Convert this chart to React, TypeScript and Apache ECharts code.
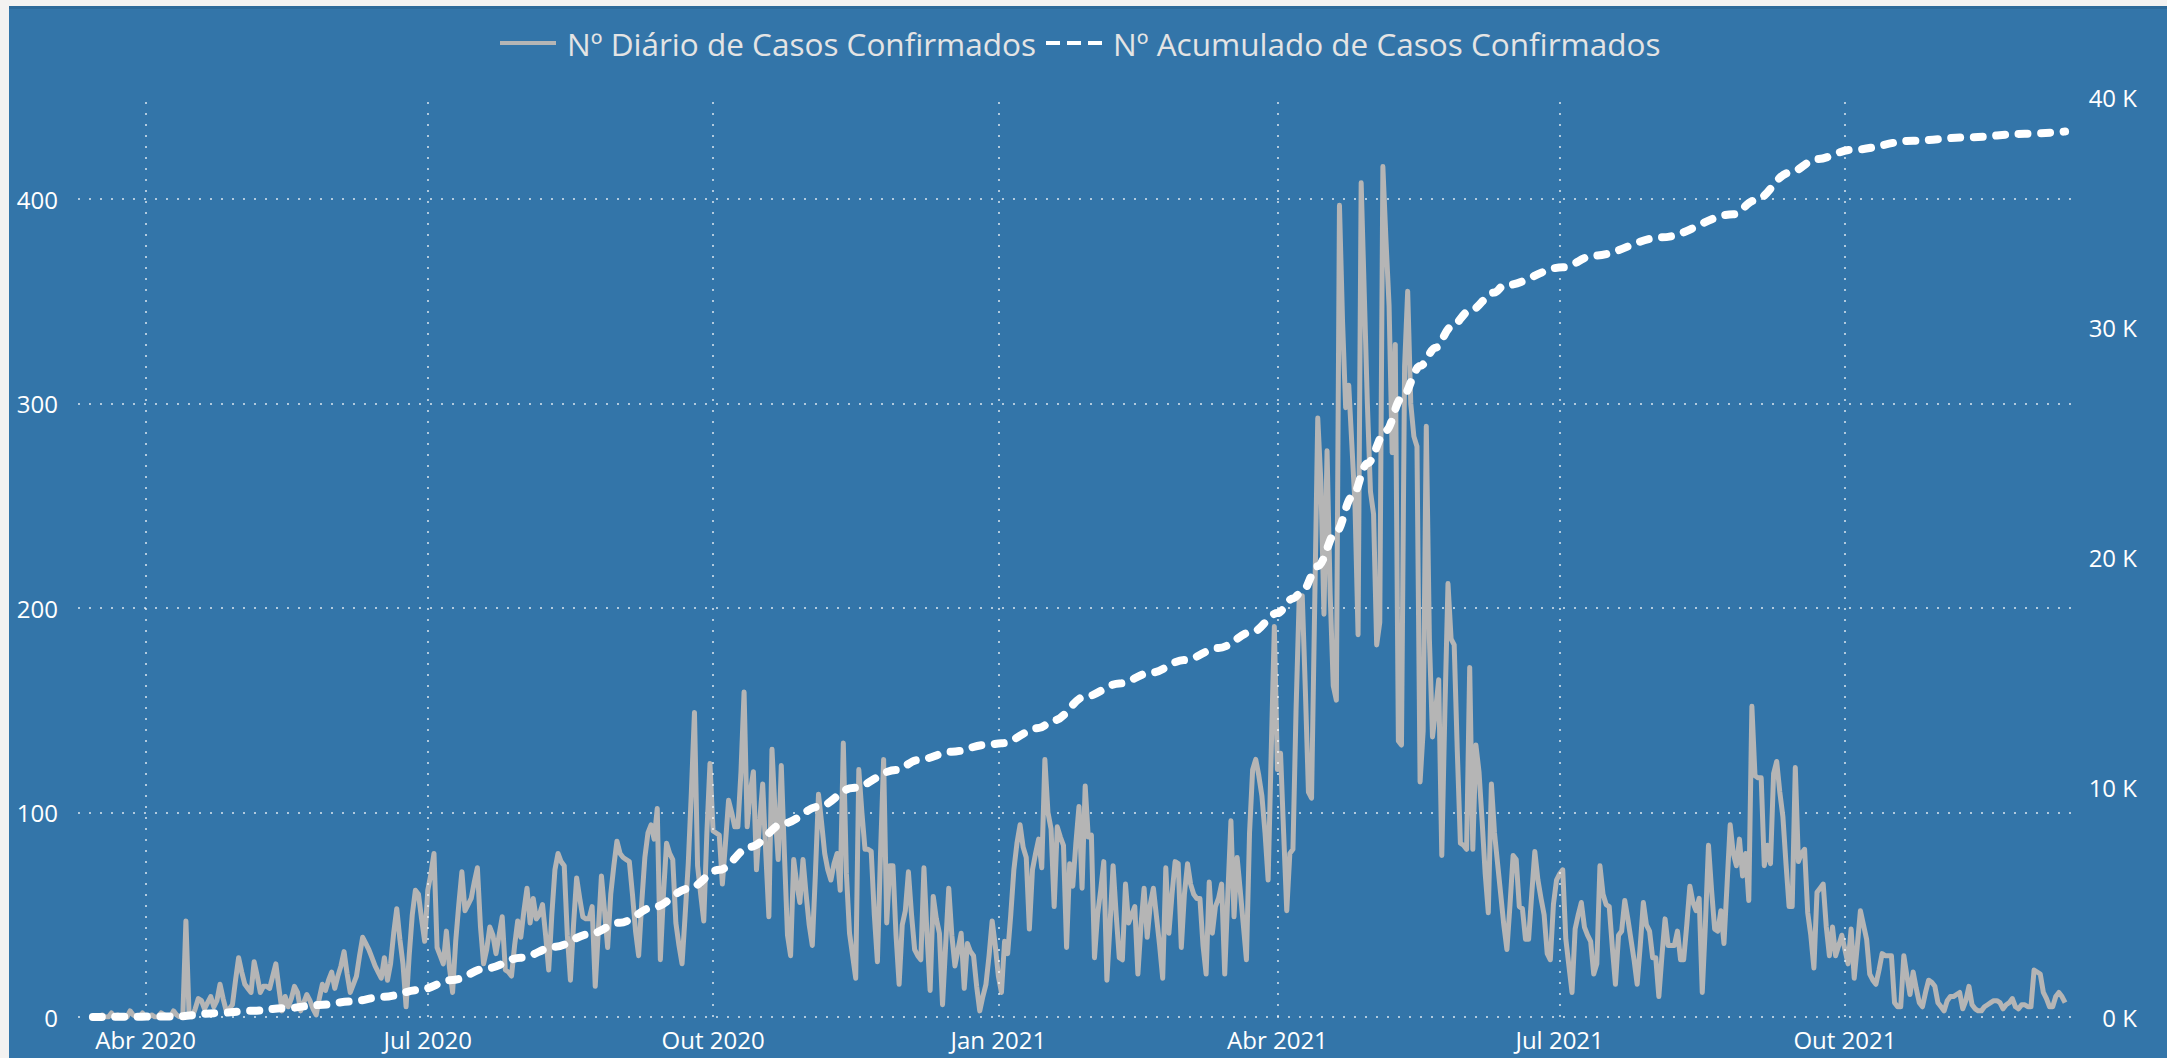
import React, { useEffect, useRef } from "react";
import * as echarts from "echarts";

// ---------- DATA ----------
const START_DATE = "2020-03-15";

// Nº Diário de Casos Confirmados (one value per day from START_DATE)
const dailyCases: number[] = [
  0, 0, 0, 1, 0, 0, 2, 0, 1, 0,
  0, 0, 3, 1, 0, 0, 2, 0, 0, 1,
  0, 0, 2, 1, 0, 0, 3, 1, 0, 0,
  47, 2, 0, 4, 9, 8, 4, 7, 10, 5,
  8, 16, 9, 3, 4, 6, 18, 29, 22, 16,
  14, 12, 27, 20, 12, 15, 15, 14, 20, 26,
  14, 3, 10, 5, 9, 15, 12, 3, 7, 11,
  8, 4, 1, 9, 16, 13, 18, 22, 14, 20,
  25, 32, 21, 12, 16, 20, 30, 39, 36, 33,
  29, 25, 22, 19, 29, 18, 26, 41, 53, 38,
  26, 5, 30, 50, 62, 60, 48, 37, 62, 70,
  80, 34, 30, 26, 42, 24, 12, 37, 55, 71,
  52, 55, 58, 66, 73, 44, 26, 33, 44, 40,
  31, 40, 49, 23, 22, 20, 35, 47, 39, 52,
  63, 46, 58, 48, 50, 55, 40, 23, 50, 72,
  80, 76, 74, 40, 18, 45, 68, 58, 49, 48,
  48, 54, 15, 42, 69, 52, 34, 60, 74, 86,
  80, 78, 77, 76, 60, 42, 30, 56, 78, 90,
  94, 87, 102, 28, 60, 85, 80, 77, 46, 35,
  26, 50, 75, 110, 149, 74, 60, 47, 90, 124,
  91, 90, 89, 65, 85, 106, 100, 93, 93, 120,
  159, 93, 110, 120, 72, 95, 114, 80, 49, 131,
  100, 77, 123, 80, 40, 30, 77, 65, 56, 77,
  60, 45, 35, 70, 109, 95, 80, 72, 67, 75,
  80, 62, 134, 70, 41, 30, 19, 121, 100, 82,
  82, 81, 50, 27, 80, 126, 46, 74, 74, 40,
  16, 45, 52, 71, 50, 33, 30, 28, 73, 40,
  13, 59, 48, 41, 6, 35, 63, 40, 25, 33,
  41, 14, 36, 32, 30, 15, 3, 10, 16, 30,
  47, 35, 20, 12, 37, 31, 50, 72, 85, 94,
  83, 78, 43, 72, 80, 87, 73, 126, 100, 92,
  54, 93, 88, 84, 34, 75, 64, 85, 103, 63,
  113, 88, 89, 29, 50, 62, 76, 18, 45, 74,
  50, 29, 28, 65, 46, 50, 54, 21, 45, 63,
  39, 55, 63, 49, 35, 19, 73, 41, 60, 76,
  75, 34, 60, 75, 65, 60, 58, 58, 35, 21,
  66, 41, 54, 58, 65, 21, 60, 96, 49, 78,
  62, 45, 28, 90, 121, 126, 118, 108, 90, 67,
  130, 191, 121, 129, 90, 52, 80, 82, 150, 204,
  206, 160, 110, 107, 200, 293, 262, 197, 277, 207,
  162, 155, 397, 340, 298, 309, 280, 251, 187, 408,
  354, 300, 257, 246, 182, 193, 416, 380, 348, 276,
  329, 135, 133, 318, 355, 300, 284, 279, 115, 140,
  289, 185, 137, 150, 165, 79, 150, 212, 185, 182,
  130, 85, 84, 82, 171, 82, 133, 120, 96, 70,
  51, 114, 90, 75, 60, 45, 33, 55, 79, 77,
  54, 53, 38, 38, 60, 81, 67, 58, 50, 31,
  28, 55, 67, 70, 72, 38, 25, 12, 43, 50,
  56, 44, 40, 37, 21, 26, 74, 60, 55, 54,
  34, 16, 40, 42, 57, 48, 38, 28, 16, 35,
  56, 45, 42, 29, 29, 10, 30, 48, 35, 35,
  35, 42, 28, 28, 45, 64, 56, 52, 58, 12,
  45, 84, 62, 43, 42, 52, 36, 65, 94, 80,
  74, 87, 69, 80, 57, 152, 118, 117, 117, 74,
  84, 75, 119, 125, 110, 98, 75, 54, 54, 122,
  76, 80, 82, 51, 40, 24, 61, 63, 65, 44,
  30, 44, 30, 35, 40, 33, 26, 43, 19, 35,
  52, 45, 38, 21, 18, 16, 23, 31, 30, 30,
  30, 7, 5, 5, 30, 20, 11, 22, 14, 7,
  5, 12, 18, 17, 15, 7, 5, 3, 8, 10,
  10, 11, 12, 4, 8, 15, 6, 4, 3, 3,
  5, 6, 7, 8, 8, 7, 4, 6, 7, 9,
  5, 4, 6, 6, 5, 5, 23, 22, 21, 12,
  9, 5, 5, 10, 12, 10, 7,
];

// Nº Acumulado de Casos Confirmados
const cumDates: string[] = [
  "2020-03-15", "2020-04-10", "2020-04-24", "2020-05-05", "2020-05-16", "2020-05-27",
  "2020-06-06", "2020-06-17", "2020-06-28", "2020-07-09", "2020-07-20", "2020-07-31",
  "2020-08-11", "2020-08-22", "2020-09-01", "2020-09-12", "2020-09-23", "2020-10-03",
  "2020-10-13", "2020-10-24", "2020-11-04", "2020-11-15", "2020-11-29", "2020-12-06",
  "2020-12-17", "2020-12-28", "2021-01-02", "2021-01-14", "2021-01-19", "2021-01-29",
  "2021-02-09", "2021-02-19", "2021-03-02", "2021-03-13", "2021-03-24", "2021-04-01",
  "2021-04-06", "2021-04-09", "2021-04-14", "2021-04-20", "2021-04-25", "2021-04-30",
  "2021-05-06", "2021-05-11", "2021-05-17", "2021-05-22", "2021-05-27", "2021-06-02",
  "2021-06-10", "2021-06-13", "2021-07-02", "2021-07-12", "2021-08-03", "2021-08-26",
  "2021-09-02", "2021-09-13", "2021-09-22", "2021-10-03", "2021-10-23", "2021-11-10",
  "2021-11-28", "2021-12-11",
];
const cumCases: number[] = [
  0, 20, 170, 270, 380, 520,
  670, 880, 1170, 1610, 2120, 2580,
  3050, 3600, 4100, 4780, 5580, 6400,
  7400, 8430, 9140, 9960, 10740, 11170,
  11530, 11830, 11900, 12560, 12900, 13930,
  14500, 14960, 15520, 16040, 16750, 17560,
  18200, 18500, 19600, 21100, 22600, 24070,
  25500, 26900, 28300, 29100, 30000, 30700,
  31500, 31800, 32600, 33100, 33900, 34900,
  35500, 36700, 37300, 37700, 38100, 38250,
  38400, 38500,
];

const quarterDates: string[] = [
  "2020-04-01", "2020-07-01", "2020-10-01", "2021-01-01",
  "2021-04-01", "2021-07-01", "2021-10-01",
];
const quarterLabels: string[] = [
  "Abr 2020", "Jul 2020", "Out 2020", "Jan 2021",
  "Abr 2021", "Jul 2021", "Out 2021",
];

const SERIES_DAILY = "Nº Diário de Casos Confirmados";
const SERIES_CUM = "Nº Acumulado de Casos Confirmados";

const X_MIN = "2020-03-10";
const X_MAX = "2021-12-14";

// ---------- HELPERS ----------
const DAY = 86400000;
const ts = (s: string) => Date.parse(s + "T00:00:00Z");

const FONT = "'Open Sans', 'Noto Sans', sans-serif";
const GRID_LINE = { color: "rgba(255,255,255,0.62)", width: 2, type: [2, 9] as any };
const TICK_FONT = 24;

export default function App() {
  const ref = useRef<HTMLDivElement>(null);

  useEffect(() => {
    if (!ref.current) return;
    const chart = echarts.init(ref.current, undefined, { renderer: "svg" });
    const start = ts(START_DATE);

    const option: any = {
      animation: false,
      useUTC: true,
      backgroundColor: "#3375A9",
      textStyle: { fontFamily: FONT },
      grid: { left: 69, right: 92, top: 88, bottom: 41, containLabel: false },
      legend: {
        left: 484,
        top: 13,
        itemWidth: 56,
        itemHeight: 14,
        itemGap: 8,
        itemStyle: { opacity: 0 },
        textStyle: { color: "#E4E4E4", fontSize: 31.5, fontFamily: FONT, padding: [0, 0, 0, 6] },
        data: [
          {
            name: SERIES_DAILY,
            itemStyle: { opacity: 0 },
            lineStyle: { width: 4, color: "#B5B5B5", type: "solid" },
          },
          {
            name: SERIES_CUM,
            itemStyle: { opacity: 0 },
            lineStyle: { width: 4, color: "#FFFFFF", type: [14, 7], cap: "butt" },
          },
        ],
      },
      xAxis: {
        type: "time",
        min: ts(X_MIN) + 0.2 * DAY,
        max: ts(X_MAX) + 0.2 * DAY,
        axisLabel: { show: false },
        axisTick: { show: false },
        axisLine: { show: false },
        splitLine: { show: false },
      },
      yAxis: [
        {
          type: "value",
          min: 0,
          max: 450,
          interval: 100,
          position: "left",
          axisLine: { show: false },
          axisTick: { show: false },
          axisLabel: {
            color: "#FFFFFF",
            fontSize: TICK_FONT,
            fontFamily: FONT,
            margin: 20,
            showMaxLabel: false,
            formatter: (v: number) => (v > 400 ? "" : String(v)),
          },
          splitLine: { show: true, showMaxLine: false, lineStyle: GRID_LINE },
        },
        {
          type: "value",
          min: 0,
          max: 40000,
          interval: 10000,
          position: "right",
          axisLine: { show: false },
          axisTick: { show: false },
          axisLabel: {
            color: "#FFFFFF",
            fontSize: TICK_FONT,
            fontFamily: FONT,
            margin: 62,
            align: "right",
            formatter: (v: number) => v / 1000 + " K",
          },
          splitLine: { show: false },
        },
      ],
      series: [
        {
          name: "_grid",
          type: "line",
          data: [[start, 0]],
          symbol: "none",
          lineStyle: { opacity: 0 },
          z: 1,
          silent: true,
          markLine: {
            silent: true,
            symbol: ["none", "none"],
            lineStyle: GRID_LINE,
            label: {
              show: true,
              position: "start",
              distance: 10,
              color: "#FFFFFF",
              fontSize: TICK_FONT,
              fontFamily: FONT,
            },
            data: quarterDates.map((d, i) => ({
              xAxis: ts(d),
              label: { formatter: quarterLabels[i] },
            })),
          },
        },
        {
          name: SERIES_DAILY,
          type: "line",
          yAxisIndex: 0,
          data: dailyCases.map((v, i) => [start + i * DAY, v]),
          symbol: "none",
          showSymbol: false,
          itemStyle: { color: "#B5B5B5" },
          lineStyle: { color: "#B5B5B5", width: 5, join: "round" },
          z: 3,
        },
        {
          name: SERIES_CUM,
          type: "line",
          yAxisIndex: 1,
          smooth: 0.35,
          smoothMonotone: "x",
          data: cumDates.map((d, i) => [ts(d), cumCases[i]]),
          symbol: "none",
          showSymbol: false,
          itemStyle: { color: "#FFFFFF" },
          lineStyle: { color: "#FFFFFF", width: 8, type: [9, 13.5], cap: "round", join: "round" },
          z: 4,
        },
      ],
    };

    chart.setOption(option);
    return () => chart.dispose();
  }, []);

  return (
    <div style={{ position: "fixed", inset: 0, background: "#F3F2F1", overflow: "hidden" }}>
      <div
        style={{
          position: "absolute",
          left: 9,
          top: 6,
          right: 0,
          bottom: 0,
          background: "#3375A9",
          borderTop: "3px solid #2D6A9A",
        }}
      >
        <div ref={ref} style={{ width: 2158, height: 1049 }} />
      </div>
    </div>
  );
}
